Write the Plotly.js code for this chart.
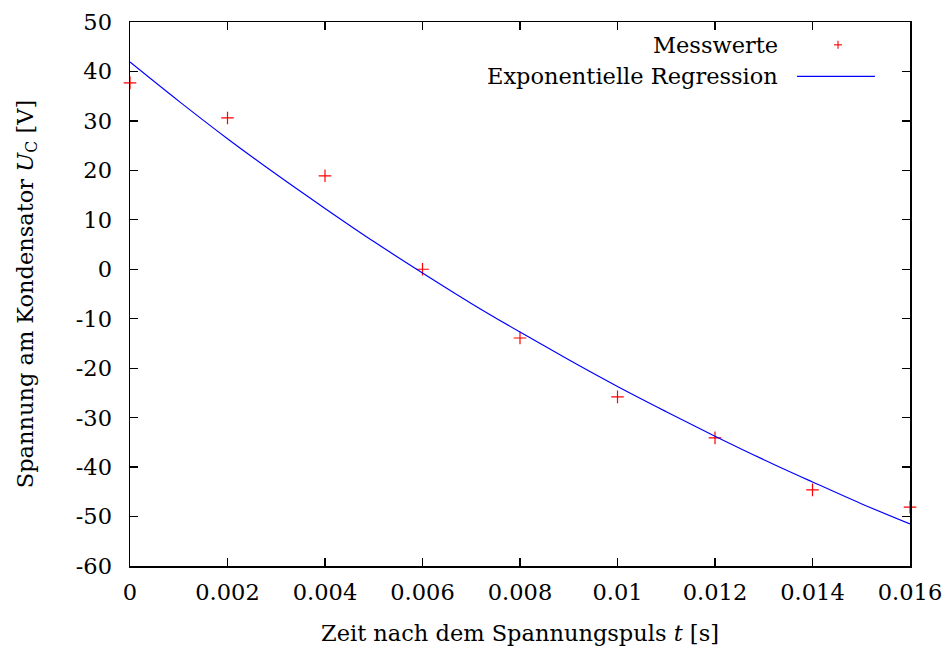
<!DOCTYPE html>
<html><head><meta charset="utf-8">
<script src="https://cdn.plot.ly/plotly-3.0.1.min.js"></script>
<style>html,body{margin:0;padding:0;background:#fff}</style>
</head><body><div id="chart" style="width:949px;height:654px"></div>
<script>
// measured values
const timeS = [0, 0.002, 0.004, 0.006, 0.008, 0.010, 0.012, 0.014, 0.016];
const voltageV = [37.7, 30.6, 18.9, 0.0, -13.9, -25.8, -34.1, -44.6, -48.1];
// regression curve
const fitT = [0, 0.001, 0.002, 0.003, 0.004, 0.005, 0.006, 0.007, 0.008, 0.009, 0.010, 0.011, 0.012, 0.013, 0.014, 0.015, 0.016];
const fitU = [41.9, 34.0, 26.4, 19.2, 12.3, 5.6, -0.75, -6.9, -12.7, -18.3, -23.7, -28.8, -33.75, -38.5, -43.0, -47.4, -51.5];
// ticks
const xTickVals = [0, 0.002, 0.004, 0.006, 0.008, 0.010, 0.012, 0.014, 0.016];
const xTickText = ["0", "0.002", "0.004", "0.006", "0.008", "0.01", "0.012", "0.014", "0.016"];
const yTickVals = [50, 40, 30, 20, 10, 0, -10, -20, -30, -40, -50, -60];
const yTickText = ["50", "40", "30", "20", "10", "0", "-10", "-20", "-30", "-40", "-50", "-60"];
const legendNames = ["Messwerte", "Exponentielle Regression"];

const FONT = "DejaVu Serif";
const FS = 22.5;
const traces = [
  {x: timeS, y: voltageV, type: "scatter", mode: "markers", name: legendNames[0], cliponaxis: false,
   marker: {symbol: "cross-thin-open", size: 9, color: "#ff0000", line: {color: "#ff0000", width: 1.2}}},
  {x: fitT, y: fitU, type: "scatter", mode: "lines", name: legendNames[1], line: {color: "#0000ff", width: 1.2, shape: "spline"}}
];
const axisCommon = {showgrid: false, zeroline: false, showline: true, linecolor: "#000", linewidth: 1.5, mirror: "ticks",
  ticks: "inside", ticklen: 8, tickwidth: 1.2, tickcolor: "#000", tickfont: {family: FONT, size: FS, color: "#000"}};
const layout = {
  width: 949, height: 654, paper_bgcolor: "#fff", plot_bgcolor: "#fff",
  margin: {l: 130, r: 39, t: 22, b: 88},
  showlegend: false,
  font: {family: FONT, color: "#000", size: FS},
  xaxis: Object.assign({}, axisCommon, {range: [0, 0.016], tickvals: xTickVals, ticktext: xTickText, ticklabelstandoff: 5,
    title: {text: "Zeit nach dem Spannungspuls <i>t</i> [s]", font: {family: FONT, size: FS}, standoff: 21}}),
  yaxis: Object.assign({}, axisCommon, {range: [-60, 50], tickvals: yTickVals, ticktext: yTickText, ticklabelstandoff: 12,
    title: {text: "Spannung am Kondensator <i>U</i><sub>C</sub> [V]", font: {family: FONT, size: FS}, standoff: 36}}),
  annotations: [
    {xref: "paper", yref: "paper", x: 0.833, y: 0.958, xanchor: "right", yanchor: "middle", showarrow: false,
     text: legendNames[0], font: {family: FONT, size: FS, color: "#000"}},
    {xref: "paper", yref: "paper", x: 0.833, y: 0.9, xanchor: "right", yanchor: "middle", showarrow: false,
     text: legendNames[1], font: {family: FONT, size: FS, color: "#000"}}
  ],
  shapes: [
    {type: "line", xref: "paper", yref: "paper", x0: 0.8551, x1: 0.9551, y0: 0.9, y1: 0.9, line: {color: "#0000ff", width: 1.2}},
    {type: "line", xref: "paper", yref: "paper", x0: 0.9026, x1: 0.9128, y0: 0.958, y1: 0.958, line: {color: "#ff0000", width: 1.1}},
    {type: "line", xref: "paper", yref: "paper", x0: 0.9077, x1: 0.9077, y0: 0.9506, y1: 0.9654, line: {color: "#ff0000", width: 1.1}}
  ]
};
Plotly.newPlot("chart", traces, layout, {displayModeBar: false, staticPlot: true});
</script></body></html>
